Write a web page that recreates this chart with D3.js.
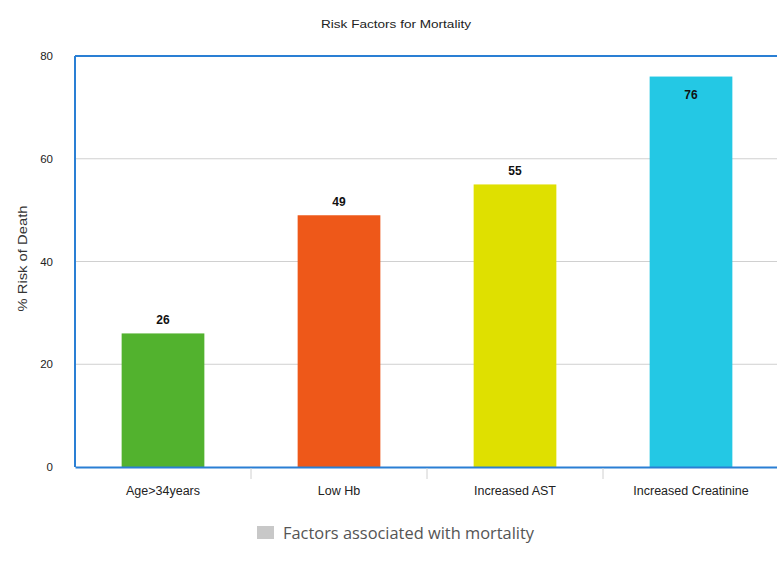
<!DOCTYPE html>
<html>
<head>
<meta charset="utf-8">
<script src="https://cdn.jsdelivr.net/npm/d3@7"></script>
<style>
  html, body { margin: 0; padding: 0; background: #fff; }
  svg { display: block; }
</style>
</head>
<body>
<svg id="chart" width="777" height="565"></svg>
<script>
const categories = ["Age>34years", "Low Hb", "Increased AST", "Increased Creatinine"];
const values = [26, 49, 55, 76];
const colors = ["#52b22e", "#ee5819", "#dfe000", "#24c8e4"];
const yTicks = [0, 20, 40, 60, 80];
const title = "Risk Factors for Mortality";
const yTitle = "% Risk of Death";
const legendLabel = "Factors associated with mortality";

const svg = d3.select("#chart");
const m = { left: 75, top: 56, right: 779, bottom: 467 };

const x = d3.scaleBand().domain(categories).range([m.left, m.right]).paddingInner(0.53).paddingOuter(0.265);
const xb = d3.scaleBand().domain(categories).range([m.left, m.right]);
const y = d3.scaleLinear().domain([0, 80]).range([m.bottom, m.top]);

// gridlines
svg.append("g").selectAll("line").data(yTicks.filter(d => d > 0 && d < 80)).join("line")
  .attr("x1", m.left).attr("x2", m.right)
  .attr("y1", d => y(d)).attr("y2", d => y(d))
  .attr("stroke", "#d0d0d0").attr("stroke-width", 1);

// bars
svg.append("g").selectAll("rect").data(values).join("rect")
  .attr("x", (d, i) => x(categories[i]))
  .attr("width", x.bandwidth())
  .attr("y", d => y(d))
  .attr("height", d => y(0) - y(d))
  .attr("fill", (d, i) => colors[i]);

// value labels
svg.append("g").selectAll("text").data(values).join("text")
  .attr("x", (d, i) => x(categories[i]) + x.bandwidth() / 2)
  .attr("y", d => y(d) > 110 ? y(d) - 9 : y(d) + 22)
  .attr("text-anchor", "middle")
  .attr("font-family", "Liberation Sans, Arial, sans-serif")
  .attr("font-size", 12).attr("font-weight", "bold").attr("fill", "#111")
  .text(d => d);

// frame (left, top) and x axis
svg.append("line").attr("x1", m.left).attr("x2", m.left).attr("y1", m.top).attr("y2", m.bottom)
  .attr("stroke", "#2a7fd4").attr("stroke-width", 2);
svg.append("line").attr("x1", m.left).attr("x2", m.right).attr("y1", m.top).attr("y2", m.top)
  .attr("stroke", "#2a7fd4").attr("stroke-width", 2);

const xAxis = svg.append("g").attr("transform", `translate(0,${m.bottom})`)
  .call(d3.axisBottom(xb).tickSize(0).tickPadding(19));
xAxis.select(".domain").attr("stroke", "#2a7fd4").attr("stroke-width", 2);
xAxis.selectAll("text").attr("font-family", "Liberation Sans, Arial, sans-serif")
  .attr("font-size", 12.5).attr("fill", "#222");
// category separator ticks
xAxis.selectAll("line.sep").data(categories.slice(1)).join("line").attr("class", "sep")
  .attr("x1", d => xb(d)).attr("x2", d => xb(d)).attr("y1", 1).attr("y2", 12)
  .attr("stroke", "#d0d0d0");

// y axis
const yAxis = svg.append("g").attr("transform", `translate(${m.left},0)`)
  .call(d3.axisLeft(y).tickValues(yTicks).tickSize(0).tickPadding(22));
yAxis.select(".domain").remove();
yAxis.selectAll("text").attr("font-family", "Liberation Sans, Arial, sans-serif")
  .attr("font-size", 11.5).attr("fill", "#222");

// title
svg.append("text").attr("x", 396).attr("y", 28).attr("text-anchor", "middle")
  .attr("font-family", "Liberation Sans, Arial, sans-serif").attr("font-size", 11.5)
  .attr("fill", "#222").attr("textLength", 150).attr("lengthAdjust", "spacingAndGlyphs").text(title);

// y title
svg.append("text").attr("transform", `translate(27,${(m.top + m.bottom) / 2 - 3}) rotate(-90)`)
  .attr("text-anchor", "middle")
  .attr("font-family", "Liberation Sans, Arial, sans-serif").attr("font-size", 12.5)
  .attr("fill", "#333").attr("textLength", 106).attr("lengthAdjust", "spacingAndGlyphs").text(yTitle);

// legend
svg.append("rect").attr("x", 257).attr("y", 526).attr("width", 17).attr("height", 13).attr("fill", "#c8c8c8");
svg.append("text").attr("x", 283).attr("y", 539)
  .attr("font-family", "Open Sans, Noto Sans, sans-serif").attr("font-size", 15.5)
  .attr("fill", "#555").attr("textLength", 251).attr("lengthAdjust", "spacingAndGlyphs").text(legendLabel);
</script>
</body>
</html>
